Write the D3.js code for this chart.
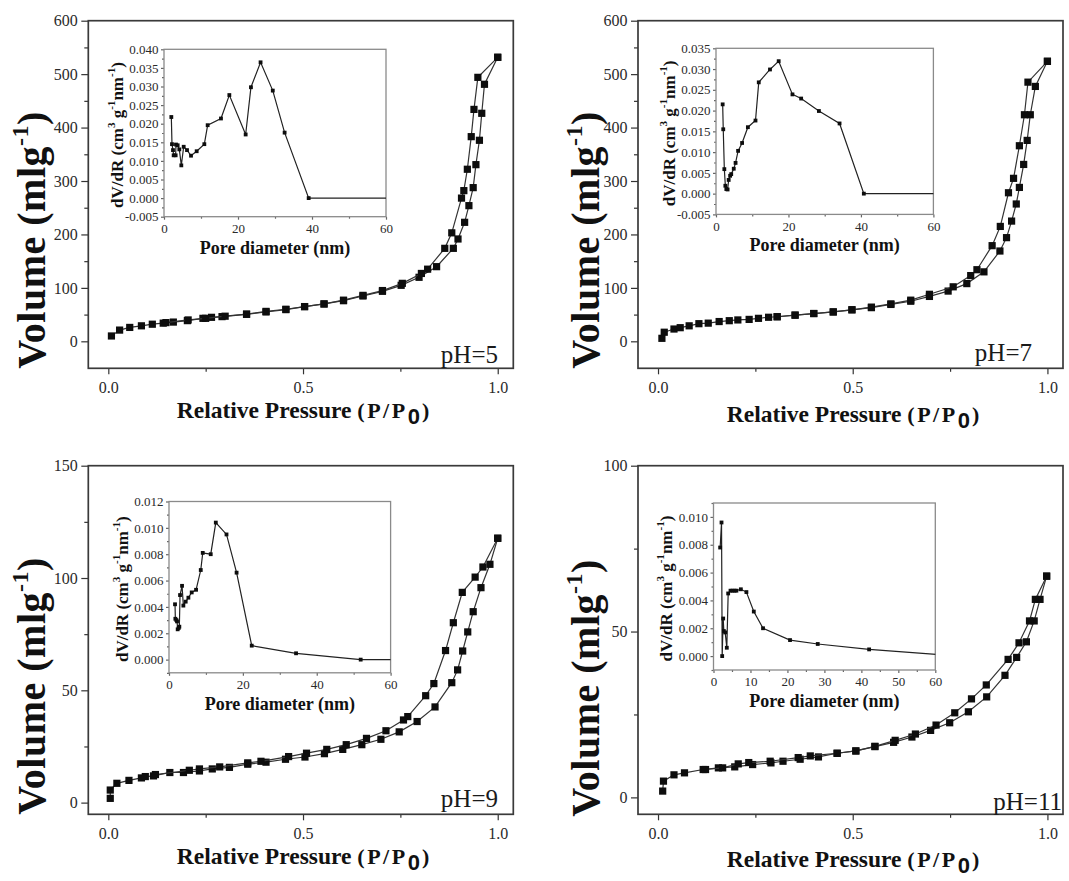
<!DOCTYPE html>
<html>
<head>
<meta charset="utf-8">
<script src="https://cdn.jsdelivr.net/npm/d3@7"></script>
<style>
  html, body { margin: 0; padding: 0; background: #fff; }
  svg { display: block; }
</style>
</head>
<body>
<svg id="fig" width="1069" height="881"></svg>
<script>
// ---------- N2 isotherms: relative pressure (P/P0) and adsorbed volume (ml/g) ----------
const ads5P = [0.008,0.029,0.055,0.085,0.113,0.141,0.167,0.203,0.243,0.265,0.292,0.355,0.405,0.456,0.504,0.554,0.604,0.654,0.704,0.752,0.798,0.843,0.886,0.898,0.915,0.926,0.937,0.944,0.953,0.959,0.966,1.0];
const ads5V = [10,21,26,29,32,34,36,38.7,43,44.9,46.2,50.5,54.9,59.3,64.9,69.9,76,84.8,93.6,104.8,119.8,139.7,174,191.5,222.7,253.9,287.6,330.6,376.2,426.7,481,531.5];
const des5P = [1.0,0.949,0.939,0.932,0.922,0.913,0.907,0.882,0.864,0.82,0.804,0.755,0.704,0.654,0.604,0.554,0.504,0.456,0.405,0.355,0.30,0.25,0.205,0.148];
const des5V = [531.5,494,434,383,322,282,268,203,174,135,127,108.5,95,86,77,70,65,60,56,51,47,43,40,35];

const ads7P = [0.01,0.016,0.041,0.057,0.08,0.105,0.129,0.157,0.183,0.205,0.234,0.258,0.284,0.306,0.352,0.4,0.45,0.498,0.548,0.598,0.649,0.697,0.745,0.793,0.837,0.878,0.895,0.908,0.92,0.928,0.939,0.948,0.956,0.969,1.0];
const ads7V = [5.6,17,23,25.5,29,33,34,37,38.6,40,41,43,45,46,49,52,55,59,63,69,75,84,94,108,130,169,194,225,257,288,331,376,424,477,524];
const des7P = [1.0,0.95,0.941,0.928,0.913,0.9,0.879,0.858,0.819,0.803,0.758,0.697,0.649,0.598,0.548,0.498,0.45,0.4,0.352,0.306];
const des7V = [524,485,424,366,305,278,215,179,134,123,102,88,77,70,64,59,55,52,49,46];

const ads9P = [0.005,0.005,0.022,0.053,0.085,0.095,0.116,0.158,0.193,0.234,0.267,0.311,0.358,0.405,0.455,0.505,0.555,0.602,0.651,0.7,0.747,0.793,0.839,0.882,0.897,0.91,0.923,0.937,0.957,0.98,1.0];
const ads9V = [1.9,5.6,8.6,9.9,11.0,11.6,11.9,13.4,13.4,14.1,15.0,15.7,17.1,18.0,19.3,20.3,21.8,23.7,25.8,28.2,31.5,36.1,42.6,53.4,59.1,67.5,76.0,85.0,95.7,106.1,117.7];
const des9P = [1.0,0.962,0.942,0.909,0.886,0.866,0.836,0.815,0.769,0.758,0.713,0.663,0.611,0.561,0.509,0.463,0.392,0.358,0.286,0.234,0.208,0.121];
const des9V = [117.7,104.9,100.4,93.6,80.1,67.7,53.0,47.6,38.3,36.8,32.0,28.6,25.8,23.7,22.0,20.5,18.4,17.7,15.9,15.0,14.4,12.5];

const ads11P = [0.012,0.014,0.041,0.068,0.116,0.155,0.197,0.243,0.29,0.321,0.365,0.412,0.46,0.508,0.557,0.605,0.652,0.7,0.749,0.797,0.844,0.891,0.921,0.946,0.966,0.981,0.998];
const ads11V = [1.9,4.9,6.8,7.4,8.4,8.9,9.2,9.9,10.4,10.9,11.5,12.2,13.3,14.0,15.3,16.6,18.2,20.2,22.5,25.8,30.3,36.8,42.2,46.9,53.2,59.7,66.7];
const des11P = [0.998,0.969,0.954,0.927,0.899,0.843,0.805,0.762,0.714,0.661,0.609,0.557,0.508,0.46,0.391,0.36,0.288,0.233,0.206,0.166,0.122];
const des11V = [66.7,59.7,53.2,46.6,41.6,33.9,29.7,25.5,21.8,19.1,17.2,15.4,14.0,13.3,12.5,12.0,10.9,10.5,10.1,8.9,8.4];

// ---------- pore size distributions: pore diameter (nm) and dV/dR ----------
const psd5D = [1.98,2.16,2.43,2.61,3.15,3.24,3.69,4.14,4.68,5.32,6.22,7.3,8.83,10.9,11.8,15.4,17.66,22.07,23.5,26.1,29.4,32.6,39.1,78];
const psd5V = [0.0218,0.0145,0.0129,0.0115,0.0115,0.0144,0.0142,0.0131,0.0088,0.0138,0.0129,0.0114,0.0126,0.0145,0.0196,0.0214,0.0277,0.0171,0.0298,0.0365,0.0289,0.0176,0.0,0.0];

const psd7D = [1.84,2.0,2.3,2.58,2.85,3.2,3.5,3.9,4.2,4.9,5.4,6.1,7.2,8.8,10.9,11.8,14.9,17.3,21.1,23.5,28.4,34.1,40.8,78];
const psd7V = [0.0215,0.0155,0.0059,0.0019,0.0011,0.0010,0.0033,0.0043,0.0047,0.0060,0.0074,0.0103,0.0122,0.0160,0.0176,0.0268,0.0299,0.0319,0.0239,0.0229,0.0199,0.0169,0.0,0.0];

const psd9D = [1.63,1.72,2.0,2.17,2.35,2.62,2.8,2.99,3.53,3.89,4.52,5.25,6.15,7.33,8.6,9.14,11.3,12.67,15.57,18.3,22.4,34.4,51.9,70];
const psd9V = [0.0042,0.0031,0.0030,0.0029,0.0023,0.0024,0.0025,0.0049,0.0056,0.0041,0.0044,0.0047,0.0051,0.0053,0.0068,0.0081,0.0080,0.0104,0.0095,0.0066,0.00106,0.00048,0.0,0.0];

const psd11D = [1.8,2.17,2.35,2.62,2.8,3.16,3.6,3.97,4.6,5.14,5.7,6.2,7.4,8.9,10.9,13.4,20.7,28.2,42.1,72];
const psd11V = [0.0078,0.0096,0.0,0.0027,0.0018,0.0017,0.0006,0.0045,0.0047,0.0047,0.0047,0.0047,0.0048,0.0046,0.0032,0.0020,0.00115,0.00087,0.00048,-0.0001];

// ---------- tick values ----------
const mainXTicks = [0, 0.5, 1.0];
const mainXMinor = [0.25, 0.75];
const yTicks600 = [0,100,200,300,400,500,600];
const yMinor600 = [50,150,250,350,450,550];
const yTicks150 = [0,50,100,150];
const yMinor150 = [25,75,125];
const yTicks100 = [0,50,100];
const yMinor100 = [25,75];

const psdXTicks20 = [0,20,40,60];
const psdXMinor20 = [10,30,50];
const psdXTicks10 = [0,10,20,30,40,50,60];
const psdXMinor10 = [5,15,25,35,45,55];
const psdY40 = [-0.005,0,0.005,0.010,0.015,0.020,0.025,0.030,0.035,0.040];
const psdY40m = [-0.0025,0.0025,0.0075,0.0125,0.0175,0.0225,0.0275,0.0325,0.0375];
const psdY35 = [-0.005,0,0.005,0.010,0.015,0.020,0.025,0.030,0.035];
const psdY35m = [-0.0025,0.0025,0.0075,0.0125,0.0175,0.0225,0.0275,0.0325];
const psdY12 = [0,0.002,0.004,0.006,0.008,0.010,0.012];
const psdY12m = [-0.001,0.001,0.003,0.005,0.007,0.009,0.011];
const psdY10 = [0,0.002,0.004,0.006,0.008,0.010];
const psdY10m = [-0.001,0.001,0.003,0.005,0.007,0.009,0.011];

const phLabels = ["pH=5", "pH=7", "pH=9", "pH=11"];

// ---------- panel layout ----------
const panels = [
  { ads:[ads5P,ads5V], des:[des5P,des5V], yDomain:[-50.5,600], yTicks:yTicks600, yMinor:yMinor600,
    left:88.3, right:513.3, top:20.7, bottom:368.3,
    ph:phLabels[0], phX:498, phY:363,
    xlab:[303,418], ylab:[32,240],
    inset:{ d:psd5D, v:psd5V, yDomain:[-0.005,0.040], yTicks:psdY40, yMinor:psdY40m, xTicks:psdXTicks20, xMinor:psdXMinor20,
            left:164, right:386, top:49.3, bottom:216.7 } },
  { ads:[ads7P,ads7V], des:[des7P,des7V], yDomain:[-50.5,600], yTicks:yTicks600, yMinor:yMinor600,
    left:638, right:1063, top:20.7, bottom:368.3,
    ph:phLabels[1], phX:1032, phY:361,
    xlab:[853,422], ylab:[586,240],
    inset:{ d:psd7D, v:psd7V, yDomain:[-0.005,0.035], yTicks:psdY35, yMinor:psdY35m, xTicks:psdXTicks20, xMinor:psdXMinor20,
            left:716, right:933.4, top:48.3, bottom:214.4 } },
  { ads:[ads9P,ads9V], des:[des9P,des9V], yDomain:[-5.2,150], yTicks:yTicks150, yMinor:yMinor150,
    left:88.3, right:513.3, top:465.7, bottom:814.3,
    ph:phLabels[2], phX:498, phY:807,
    xlab:[303,864], ylab:[32,686],
    inset:{ d:psd9D, v:psd9V, yDomain:[-0.001,0.012], yTicks:psdY12, yMinor:psdY12m, xTicks:psdXTicks20, xMinor:psdXMinor20,
            left:169, right:390.6, top:501.5, bottom:672.8 } },
  { ads:[ads11P,ads11V], des:[des11P,des11V], yDomain:[-5.1,100], yTicks:yTicks100, yMinor:yMinor100,
    left:638, right:1063, top:465.7, bottom:814.3,
    ph:phLabels[3], phX:1062, phY:810,
    xlab:[853,867], ylab:[586,688],
    inset:{ d:psd11D, v:psd11V, yDomain:[-0.001,0.011], yTicks:psdY10, yMinor:psdY10m, xTicks:psdXTicks10, xMinor:psdXMinor10,
            left:713.5, right:935.3, top:503, bottom:670 } }
];

const SERIF = "'Liberation Serif', 'Times New Roman', serif";
const SANS = "'Liberation Sans', Arial, sans-serif";
const svg = d3.select("#fig");

function styleAxis(g, size, color) {
  g.attr("font-family", null).attr("font-size", null);
  g.select(".domain").remove();
  g.selectAll(".tick line").attr("stroke", color).attr("stroke-width", 1.2);
  g.selectAll(".tick text")
    .style("font-family", SERIF).style("font-size", size + "px").attr("fill", "#2a2a2a");
}

function fmtPsd(v) {
  const s = Math.abs(v).toFixed(3);
  return v < -1e-9 ? "-" + s : s;
}

function drawMain(p, idx) {
  const g = svg.append("g");
  const x = d3.scaleLinear().domain([-0.0514, 1.04]).range([p.left, p.right]);
  const y = d3.scaleLinear().domain(p.yDomain).range([p.bottom, p.top]);

  // axes: major ticks with labels, minor ticks without
  const gx = g.append("g").attr("transform", `translate(0,${p.bottom})`)
    .call(d3.axisBottom(x).tickValues(mainXTicks).tickFormat(d3.format(".1f")).tickSize(6).tickPadding(7));
  styleAxis(gx, 16, "#333");
  const gxm = g.append("g").attr("transform", `translate(0,${p.bottom})`)
    .call(d3.axisBottom(x).tickValues(mainXMinor).tickFormat("").tickSize(3.5));
  styleAxis(gxm, 16, "#333");

  const gy = g.append("g").attr("transform", `translate(${p.left},0)`)
    .call(d3.axisLeft(y).tickValues(p.yTicks).tickFormat(d3.format("d")).tickSize(7).tickPadding(3.5));
  styleAxis(gy, 16, "#333");
  const gym = g.append("g").attr("transform", `translate(${p.left},0)`)
    .call(d3.axisLeft(y).tickValues(p.yMinor).tickFormat("").tickSize(4));
  styleAxis(gym, 16, "#333");

  // frame
  g.append("rect").attr("x", p.left).attr("y", p.top)
    .attr("width", p.right - p.left).attr("height", p.bottom - p.top)
    .attr("fill", "none").attr("stroke", "#3a3a3a").attr("stroke-width", 1.7);

  // isotherm branches
  const line = d3.line().x(d => x(d[0])).y(d => y(d[1]));
  const ms = 7.2;
  [p.ads, p.des].forEach(br => {
    const pts = d3.zip(br[0], br[1]);
    g.append("path").datum(pts).attr("d", line)
      .attr("fill", "none").attr("stroke", "#333").attr("stroke-width", 1.2);
    g.append("g").selectAll("rect").data(pts).join("rect")
      .attr("x", d => x(d[0]) - ms / 2).attr("y", d => y(d[1]) - ms / 2)
      .attr("width", ms).attr("height", ms).attr("fill", "#0d0d0d");
  });

  // pH tag
  g.append("text").attr("x", p.phX).attr("y", p.phY).attr("text-anchor", "end")
    .style("font-family", SERIF).style("font-size", "25px").attr("fill", "#1a1a1a").text(p.ph);

  // x axis title
  const tx = g.append("text").attr("x", p.xlab[0]).attr("y", p.xlab[1]).attr("text-anchor", "middle")
    .style("font-family", SERIF).style("font-weight", "bold").attr("fill", "#111");
  tx.append("tspan").style("font-size", "23.5px").text("Relative Pressure ");
  tx.append("tspan").style("font-size", "22px").style("letter-spacing", "2.5px").text("(P/P");
  tx.append("tspan").style("font-size", "22px").style("font-family", SANS).style("letter-spacing", "2px").attr("dy", 6).text("0");
  tx.append("tspan").style("font-size", "22px").attr("dy", -6).text(")");

  // y axis title
  const fs = 40;
  const ty = g.append("text").attr("transform", `translate(${p.ylab[0]},${p.ylab[1]}) rotate(-90)`)
    .attr("x", 0).attr("y", fs * 0.33).attr("text-anchor", "middle")
    .style("font-family", SERIF).style("font-weight", "bold").style("font-size", fs + "px")
    .style("letter-spacing", "0.5px").attr("fill", "#111");
  ty.append("tspan").text("Volume (mlg");
  ty.append("tspan").style("font-size", (fs * 0.6) + "px").attr("dy", -fs * 0.42).text("-1");
  ty.append("tspan").attr("dy", fs * 0.42).text(")");

  drawInset(g, p.inset, idx);
}

function drawInset(parent, q, idx) {
  const g = parent.append("g");
  const x = d3.scaleLinear().domain([0, 60]).range([q.left, q.right]);
  const y = d3.scaleLinear().domain(q.yDomain).range([q.bottom, q.top]);

  g.append("rect").attr("x", q.left).attr("y", q.top)
    .attr("width", q.right - q.left).attr("height", q.bottom - q.top)
    .attr("fill", "#fff");

  const gx = g.append("g").attr("transform", `translate(0,${q.bottom})`)
    .call(d3.axisBottom(x).tickValues(q.xTicks).tickFormat(d3.format("d")).tickSize(3).tickPadding(4));
  styleAxis(gx, 13, "#666");
  const gxm = g.append("g").attr("transform", `translate(0,${q.bottom})`)
    .call(d3.axisBottom(x).tickValues(q.xMinor).tickFormat("").tickSize(2));
  styleAxis(gxm, 13, "#666");

  const gy = g.append("g").attr("transform", `translate(${q.left},0)`)
    .call(d3.axisLeft(y).tickValues(q.yTicks).tickFormat(fmtPsd).tickSize(3).tickPadding(2.5));
  styleAxis(gy, 13, "#666");
  const gym = g.append("g").attr("transform", `translate(${q.left},0)`)
    .call(d3.axisLeft(y).tickValues(q.yMinor).tickFormat("").tickSize(2));
  styleAxis(gym, 13, "#666");

  g.append("rect").attr("x", q.left).attr("y", q.top)
    .attr("width", q.right - q.left).attr("height", q.bottom - q.top)
    .attr("fill", "none").attr("stroke", "#8a8a8a").attr("stroke-width", 1.3);

  const clipId = "inset-clip-" + idx;
  g.append("clipPath").attr("id", clipId).append("rect")
    .attr("x", q.left).attr("y", q.top).attr("width", q.right - q.left).attr("height", q.bottom - q.top);

  const pts = d3.zip(q.d, q.v);
  const line = d3.line().x(d => x(d[0])).y(d => y(d[1]));
  const body = g.append("g").attr("clip-path", `url(#${clipId})`);
  body.append("path").datum(pts).attr("d", line)
    .attr("fill", "none").attr("stroke", "#222").attr("stroke-width", 1.2);
  const ms = 3.8;
  body.append("g").selectAll("rect").data(pts).join("rect")
    .attr("x", d => x(d[0]) - ms / 2).attr("y", d => y(d[1]) - ms / 2)
    .attr("width", ms).attr("height", ms).attr("fill", "#0d0d0d");

  // titles
  g.append("text").attr("x", (q.left + q.right) / 2).attr("y", q.bottom + 37)
    .attr("text-anchor", "middle").style("font-family", SERIF).style("font-weight", "bold")
    .style("font-size", "18px").attr("fill", "#111").text("Pore diameter (nm)");

  const fs = 17;
  const cy = (q.top + q.bottom) / 2 + 2;
  const t = g.append("text").attr("transform", `translate(${q.left - 47},${cy}) rotate(-90)`)
    .attr("x", 0).attr("y", fs * 0.33).attr("text-anchor", "middle")
    .style("font-family", SERIF).style("font-weight", "bold").style("font-size", fs + "px").attr("fill", "#111");
  const sup = (s) => { t.append("tspan").style("font-size", (fs * 0.65) + "px").attr("dy", -fs * 0.45).text(s); };
  const base = (s) => { t.append("tspan").attr("dy", fs * 0.45).text(s); };
  t.append("tspan").text("dV/dR (cm");
  sup("3");
  base(" g");
  sup("-1");
  base("nm");
  sup("-1");
  base(")");
}

panels.forEach((p, i) => drawMain(p, i));
</script>
</body>
</html>
